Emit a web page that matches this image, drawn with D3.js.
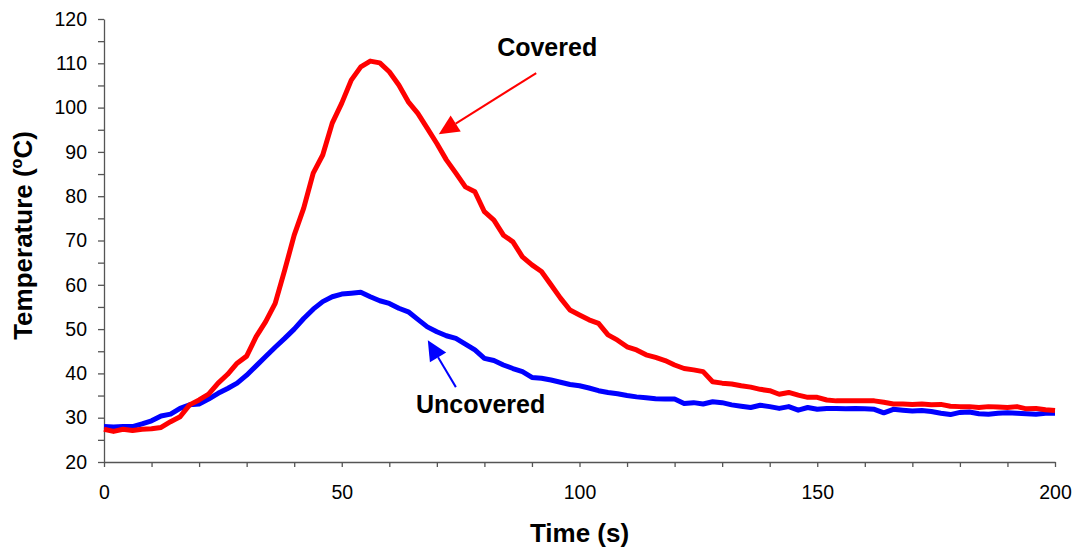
<!DOCTYPE html>
<html>
<head>
<meta charset="utf-8">
<script src="https://cdn.jsdelivr.net/npm/d3@7"></script>
<style>
  body { margin: 0; background: #fff; }
  svg { display: block; font-family: Arial, "Liberation Sans", sans-serif; }
  .axis path, .axis line { stroke: #555; stroke-width: 1.3px; }
  .axis text { font-size: 19.5px; fill: #000; }
</style>
</head>
<body>
<div id="chart"></div>
<script>
// time points (s)
const time = [0, 2, 4, 6, 8, 10, 12, 14, 16, 18, 20, 22, 24, 26, 28, 30, 32, 34, 36, 38,
  40, 42, 44, 46, 48, 50, 52, 54, 56, 58, 60, 62, 64, 66, 68, 70, 72, 74, 76, 78,
  80, 82, 84, 86, 88, 90, 92, 94, 96, 98, 100, 102, 104, 106, 108, 110, 112, 114, 116, 118,
  120, 122, 124, 126, 128, 130, 132, 134, 136, 138, 140, 142, 144, 146, 148, 150, 152, 154, 156, 158,
  160, 162, 164, 166, 168, 170, 172, 174, 176, 178, 180, 182, 184, 186, 188, 190, 192, 194, 196, 198, 200];

// temperature readings (deg C)
const covered = [27.4, 26.9, 27.4, 27.1, 27.4, 27.5, 27.8, 29.1, 30.2, 32.9, 34.0, 35.3, 37.8, 39.8, 42.3, 43.9, 48.3, 51.7, 55.8, 63.3,
  71.2, 77.3, 85.2, 89.3, 96.5, 101.0, 106.2, 109.2, 110.5, 110.1, 108.1, 105.1, 101.3, 98.7, 95.3, 91.9, 88.2, 85.2, 82.1, 81.0,
  76.5, 74.6, 71.2, 69.7, 66.3, 64.5, 63.0, 60.0, 57.0, 54.3, 53.2, 52.1, 51.3, 48.7, 47.5, 46.0, 45.3, 44.2, 43.6, 42.9,
  41.9, 41.1, 40.8, 40.4, 38.1, 37.8, 37.6, 37.2, 36.9, 36.4, 36.1, 35.3, 35.7, 35.1, 34.6, 34.6, 34.0, 33.8, 33.8, 33.8,
  33.8, 33.8, 33.5, 33.1, 33.1, 33.0, 33.1, 32.9, 33.0, 32.6, 32.5, 32.5, 32.3, 32.5, 32.4, 32.3, 32.5, 32.0, 32.1, 31.8, 31.6];

const uncovered = [28.0, 27.9, 28.0, 28.0, 28.6, 29.3, 30.4, 30.8, 32.1, 32.9, 33.1, 34.2, 35.5, 36.6, 37.8, 39.6, 41.7, 43.8, 45.9, 47.9,
  50.0, 52.4, 54.5, 56.2, 57.3, 57.9, 58.1, 58.3, 57.3, 56.4, 55.8, 54.7, 53.9, 52.2, 50.5, 49.4, 48.5, 47.9, 46.6, 45.3,
  43.4, 42.9, 41.9, 41.1, 40.4, 39.1, 38.9, 38.5, 38.0, 37.5, 37.2, 36.7, 36.1, 35.7, 35.4, 35.0, 34.7, 34.5, 34.3, 34.2,
  34.2, 33.2, 33.4, 33.1, 33.6, 33.4, 32.9, 32.6, 32.3, 32.8, 32.5, 32.1, 32.5, 31.7, 32.3, 31.9, 32.1, 32.1, 32.0, 32.1,
  32.0, 31.9, 31.1, 31.9, 31.7, 31.5, 31.6, 31.4, 31.0, 30.7, 31.2, 31.3, 30.9, 30.8, 31.0, 31.1, 31.0, 30.9, 30.8, 31.0, 31.0];

// annotations: label position and arrow (from -> tip), in data units
const labels = [
  { text: "Covered", color: "red", t: 93.2, T: 111.7, from: [90.9, 107.8], tip: [70.4, 94.0] },
  { text: "Uncovered", color: "blue", t: 79.2, T: 31.0, from: [74.0, 36.9], tip: [68.1, 47.5] }
];

const W = 1076, H = 551;
const margin = { top: 19, right: 21, bottom: 89, left: 104 };
const width = W - margin.left - margin.right;
const height = H - margin.top - margin.bottom;

const svg = d3.select("#chart").append("svg")
    .attr("width", W)
    .attr("height", H);

const g = svg.append("g")
    .attr("transform", `translate(${margin.left},${margin.top})`);

const x = d3.scaleLinear().domain([0, 200]).range([0, width]);
const y = d3.scaleLinear().domain([20, 120]).range([height, 0]);

// axes, minor ticks unlabeled
g.append("g")
    .attr("class", "axis")
    .attr("transform", `translate(0,${height})`)
    .call(d3.axisBottom(x).ticks(20).tickSizeInner(5).tickSizeOuter(0).tickPadding(18)
        .tickFormat(d => d % 50 === 0 ? d : ""));

g.append("g")
    .attr("class", "axis")
    .call(d3.axisLeft(y).ticks(20).tickSizeInner(6).tickSizeOuter(0).tickPadding(11)
        .tickFormat(d => d % 10 === 0 ? d : ""));

g.selectAll(".axis text").attr("font-family", null);
g.selectAll(".axis").attr("font-family", null).attr("font-size", null);

// lines
const line = d3.line()
    .x((d, i) => x(time[i]))
    .y(d => y(d));

g.append("path")
    .datum(uncovered)
    .attr("fill", "none")
    .attr("stroke", "#0000ff")
    .attr("stroke-width", 5)
    .attr("stroke-linejoin", "round")
    .attr("d", line);

g.append("path")
    .datum(covered)
    .attr("fill", "none")
    .attr("stroke", "#ff0000")
    .attr("stroke-width", 5)
    .attr("stroke-linejoin", "round")
    .attr("d", line);

// annotations
labels.forEach(a => {
    const x1 = x(a.from[0]), y1 = y(a.from[1]);
    const x2 = x(a.tip[0]), y2 = y(a.tip[1]);
    const ang = Math.atan2(y2 - y1, x2 - x1);
    const hl = 20, hw = 9.5;
    const bx = x2 - hl * Math.cos(ang), by = y2 - hl * Math.sin(ang);
    g.append("line")
        .attr("x1", x1).attr("y1", y1)
        .attr("x2", bx).attr("y2", by)
        .attr("stroke", a.color)
        .attr("stroke-width", 2);
    g.append("path")
        .attr("d", `M${x2},${y2}L${bx + hw * Math.sin(ang)},${by - hw * Math.cos(ang)}L${bx - hw * Math.sin(ang)},${by + hw * Math.cos(ang)}Z`)
        .attr("fill", a.color);
    g.append("text")
        .attr("x", x(a.t))
        .attr("y", y(a.T))
        .attr("text-anchor", "middle")
        .attr("font-size", "25px")
        .attr("font-weight", "bold")
        .text(a.text);
});

// axis titles
svg.append("text")
    .attr("x", margin.left + width / 2)
    .attr("y", 542)
    .attr("text-anchor", "middle")
    .attr("font-size", "26px")
    .attr("font-weight", "bold")
    .text("Time (s)");

const yt = svg.append("text")
    .attr("transform", `translate(32,${margin.top + height / 2 - 5}) rotate(-90)`)
    .attr("text-anchor", "middle")
    .attr("font-size", "26px")
    .attr("font-weight", "bold");
yt.append("tspan").text("Temperature (");
yt.append("tspan").attr("font-size", "16px").attr("dy", "-10").text("o");
yt.append("tspan").attr("dy", "10").text("C)");
</script>
</body>
</html>
